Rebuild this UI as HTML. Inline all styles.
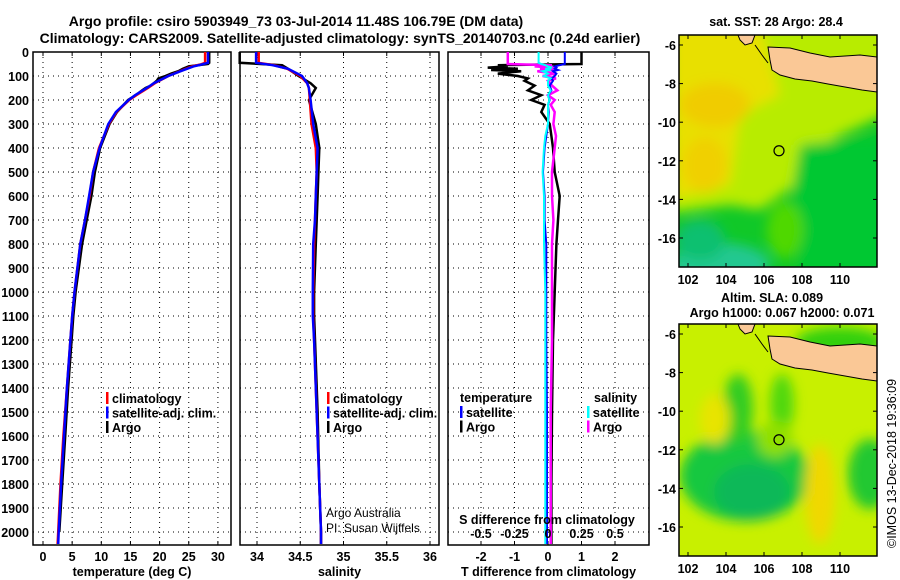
<!DOCTYPE html>
<html><head><meta charset="utf-8"><style>
body{margin:0;background:#fff}
svg{display:block}
text{font-family:"Liberation Sans",sans-serif;font-weight:bold;font-size:12.5px;fill:#000}
</style></head><body>
<svg id="c" width="900" height="580" viewBox="0 0 900 580" xmlns="http://www.w3.org/2000/svg">
<rect width="900" height="580" fill="#fff"/>
<text x="296" y="26" text-anchor="middle" style="font-size:14px">Argo profile: csiro 5903949_73 03-Jul-2014 11.48S 106.79E (DM data)</text>
<text x="340" y="43" text-anchor="middle" style="font-size:14px">Climatology: CARS2009. Satellite-adjusted climatology: synTS_20140703.nc (0.24d earlier)</text>
</svg>
<script>
// ---- data ----
const depthTicks=[0,100,200,300,400,500,600,700,800,900,1000,1100,1200,1300,1400,1500,1600,1700,1800,1900,2000];
const tempTicks=[0,5,10,15,20,25,30];
const salTicks=[34,34.5,35,35.5,36];
const salTickLabels=["34","34.5","35","35.5","36"];
const tdTicks=[-2,-1,0,1,2];
const sdTicks=[-0.5,-0.25,0,0.25,0.5];
const sdTickLabels=["-0.5","-0.25","0","0.25","0.5"];

const depT=[0,45,52,60,80,100,130,150,180,200,250,300,400,500,600,700,800,1000,1100,1200,1400,1600,1800,2000,2050];
const tempClim=[27.8,27.8,27.0,25.5,23.5,21.5,19.2,18.0,16.0,14.8,12.6,11.3,9.6,8.6,8.0,7.2,6.4,5.4,5.0,4.7,4.1,3.5,3.0,2.6,2.5];
const tempSat=[28.3,28.3,27.2,25.8,23.6,21.5,19.0,17.8,15.8,14.7,12.5,11.2,9.7,8.6,7.9,7.2,6.4,5.4,5.0,4.7,4.1,3.6,3.1,2.7,2.6];
const depA=[0,45,50,60,70,80,90,100,110,120,140,150,160,180,200,250,300,400,500,600,700,800,1000,1100,1200,1400,1600,1800,2000];
const tempArgo=[28.5,28.5,28.3,25.0,24.0,23.2,22.0,21.0,19.8,19.5,18.5,17.6,17.0,15.9,14.6,12.7,11.4,9.8,8.9,8.3,7.5,6.7,5.6,5.2,4.9,4.3,3.8,3.3,2.8];

const depS=[0,45,55,70,100,130,150,200,300,400,500,600,700,800,1000,1100,1200,1500,1800,2000,2050];
const salClim=[34.02,34.02,34.20,34.35,34.50,34.58,34.60,34.61,34.63,34.68,34.69,34.68,34.67,34.66,34.65,34.65,34.66,34.69,34.72,34.74,34.74];
const salSat=[33.99,33.99,34.18,34.36,34.52,34.58,34.60,34.62,34.65,34.70,34.69,34.68,34.67,34.65,34.645,34.645,34.66,34.69,34.72,34.74,34.74];
const salArgo=[33.8,33.8,34.29,34.36,34.48,34.62,34.68,34.60,34.68,34.72,34.71,34.70,34.69,34.68,34.66,34.66,34.67,34.70,34.72,34.74,34.74];

const depD=[0,45,50,55,60,65,70,75,80,90,100,110,120,140,160,180,200,220,250,300,350,400,500,600,700,800,1000,1200,1500,1800,2000,2050];
const tdArgo=[1.0,1.0,1.0,-1.5,-1.2,-1.8,-0.9,-1.7,-0.8,-1.5,-0.9,-0.6,-0.7,-0.4,-0.6,-0.2,-0.5,-0.1,-0.2,0.05,0.1,0.15,0.2,0.35,0.3,0.25,0.2,0.15,0.12,0.1,0.1,0.1];
const tdSat=[0.5,0.5,0.5,0.35,0.2,0.25,0.2,0.3,0.15,0.25,0.2,0.1,0.15,0.05,0.1,0.0,0.05,0.0,0.02,0.0,-0.05,-0.1,-0.15,-0.1,-0.1,-0.05,-0.05,-0.05,-0.03,-0.03,-0.03,-0.03];
const sdArgo=[-0.3,-0.3,-0.3,0.03,-0.1,0.05,-0.06,0.04,-0.08,0.05,-0.04,0.06,0.0,0.03,0.07,0.0,0.05,0.02,0.05,0.04,0.06,0.05,0.03,0.03,0.04,0.03,0.03,0.03,0.02,0.02,0.02,0.02];
const sdSat=[-0.07,-0.07,-0.05,-0.02,0.0,0.03,-0.02,0.02,-0.04,0.0,-0.03,0.02,0.0,0.0,0.02,0.0,0.01,0.0,0.0,0.0,-0.02,-0.03,-0.04,-0.03,-0.03,-0.03,-0.02,-0.02,-0.02,-0.02,-0.02,-0.02];

const NS="http://www.w3.org/2000/svg";
const svg=document.getElementById('c');
function mk(tag,attrs,parent){const e=document.createElementNS(NS,tag);for(const k in attrs)e.setAttribute(k,attrs[k]);(parent||svg).appendChild(e);return e;}

const yTop=52,yBot=545;
const yD=d=>52+d*0.24;

function panel(name,x0,x1,xs,xticks,xlabels,xtitle,showY){
  const g=mk('g',{});
  
  
  xticks.forEach((v,i)=>{
    const l=mk('line',{x1:xs(v),x2:xs(v),y1:yTop,y2:yBot,stroke:'#000','stroke-width':1,'stroke-dasharray':'1,4'},g);
    
    
    const t=mk('text',{x:xs(v),y:yBot+16,'text-anchor':'middle'},g);t.textContent=xlabels[i];
    
    
    mk('line',{x1:xs(v),x2:xs(v),y1:yBot,y2:yBot-4,stroke:'#000'},g);
    mk('line',{x1:xs(v),x2:xs(v),y1:yTop,y2:yTop+4,stroke:'#000'},g);
  });
  depthTicks.forEach(d=>{
    const l=mk('line',{x1:x0,x2:x1,y1:yD(d),y2:yD(d),stroke:'#000','stroke-width':1,'stroke-dasharray':'1,4'},g);
    
    
    if(showY){const t=mk('text',{x:29,y:yD(d)+5,'text-anchor':'end'},g);t.textContent=d;
      
      }
  });
  const r=mk('rect',{x:x0,y:yTop,width:x1-x0,height:yBot-yTop,fill:'none',stroke:'#000','stroke-width':1.5},g);
  
  
  const t=mk('text',{x:(x0+x1)/2,y:576,'text-anchor':'middle'},g);t.textContent=xtitle;
  
  
  return g;
}
function line(g,deps,vals,xs,color,w,name){
  let d='';
  deps.forEach((dp,i)=>{d+=(i?'L':'M')+xs(vals[i]).toFixed(1)+','+yD(dp).toFixed(1);});
  const p=mk('path',{d:d,fill:'none',stroke:color,'stroke-width':w},g);
  
  
}
function legend(g,x,y,items){
  items.forEach((it,i)=>{
    mk('rect',{x:x,y:y+i*14.5-6,width:2.5,height:12,fill:it[0]},g);
    const t=mk('text',{x:x+6,y:y+i*14.5+5},g);t.textContent=it[1];
    
    
  });
}
// panel 1 temperature
const xT=v=>43+v*5.83;
const g1=panel('temperature-panel',33,231,xT,tempTicks,tempTicks.map(String),'temperature (deg C)',true);
line(g1,depA,tempArgo,xT,'#000',2.5,'argo-temperature-line');
line(g1,depT,tempClim,xT,'#f00',2.5,'climatology-temperature-line');
line(g1,depT,tempSat,xT,'#00f',2.5,'satellite-temperature-line');
legend(g1,106,398,[['#f00','climatology'],['#00f','satellite-adj. clim.'],['#000','Argo']]);
// panel 2 salinity
const xS=v=>257+(v-34)*86.5;
const g2=panel('salinity-panel',240,439,xS,salTicks,salTickLabels,'salinity',false);
line(g2,depS,salArgo,xS,'#000',2.5,'argo-salinity-line');
line(g2,depS,salClim,xS,'#f00',2.5,'climatology-salinity-line');
line(g2,depS,salSat,xS,'#00f',2.5,'satellite-salinity-line');
legend(g2,327,398,[['#f00','climatology'],['#00f','satellite-adj. clim.'],['#000','Argo']]);
[['Argo Australia',517],['PI: Susan Wijffels',532]].forEach(a=>{const t=mk('text',{x:326,y:a[1],style:'font-weight:normal;font-size:12px'},g2);t.textContent=a[0];
  
  });
// panel 3 differences
const xTD=v=>548+v*33.5;
const xSD=v=>548+v*134;
const g3=panel('difference-panel',448,649,xTD,tdTicks,tdTicks.map(String),'T difference from climatology',false);
line(g3,depD,tdArgo,xTD,'#000',2.5,'argo-t-diff-line');
line(g3,depD,sdArgo,xSD,'#f0f',2.5,'argo-s-diff-line');
line(g3,depD,tdSat,xTD,'#00f',2,'satellite-t-diff-line');
line(g3,depD,sdSat,xSD,'#0ff',2,'satellite-s-diff-line');
sdTicks.forEach((v,i)=>{const t=mk('text',{x:xSD(v),y:538,'text-anchor':'middle'},g3);t.textContent=sdTickLabels[i];
  
  });
{const t=mk('text',{x:547,y:524,'text-anchor':'middle'},g3);t.textContent='S difference from climatology';
 
 }
{const t=mk('text',{x:460,y:402},g3);t.textContent='temperature';}
{const t=mk('text',{x:594,y:402},g3);t.textContent='salinity';}
legend(g3,460,412,[['#00f','satellite'],['#000','Argo']]);
legend(g3,587,412,[['#0ff','satellite'],['#f0f','Argo']]);

// ---- maps ----
function map(name,y0,bgFill,blobs,title){
  const g=mk('g',{});
  
  
  const x0=679,x1=877,y1=y0+232;
  const lx=lon=>688+(lon-102)*19, ly=lat=>y0+10+(-6-lat)*19.3;
  const cid='clip'+y0;
  const cp=mk('clipPath',{id:cid},g);mk('rect',{x:x0,y:y0,width:x1-x0,height:y1-y0},cp);
  const flt=mk('filter',{id:'bl'+y0,x:'-20%',y:'-20%',width:'140%',height:'140%'},g);mk('feGaussianBlur',{stdDeviation:6},flt);
  const inner=mk('g',{'clip-path':'url(#'+cid+')'},g);
  mk('rect',{x:x0,y:y0,width:x1-x0,height:y1-y0,fill:bgFill},inner);
  const bg=mk('g',{filter:'url(#bl'+y0+')'},inner);
  blobs.forEach(b=>{
    if(b[0]==='p'){mk('polygon',{points:b[1].map(p=>p[0]+','+(p[1]+y0)).join(' '),fill:b[2]},bg);}
    else mk('ellipse',{cx:b[1],cy:b[2]+y0,rx:b[3],ry:b[4],fill:b[5]},bg);
  });
  // land
  const java=[[768,12],[790,13],[810,18],[830,22],[845,21],[860,20],[877,22],[877,57],[862,55],[845,52],[828,49],[812,46],[795,44],[780,40],[772,35],[770,25]];
  const land=mk('polygon',{points:java.map(p=>p[0]+','+(p[1]+y0)).join(' '),fill:'#fac896',stroke:'#000','stroke-width':1},inner);
  
  
  mk('polygon',{points:[[738,0],[755,0],[752,8],[745,10],[740,5]].map(p=>p[0]+','+(p[1]+y0)).join(' '),fill:'#fac896',stroke:'#000','stroke-width':1},inner);
  mk('polyline',{points:[[755,10],[762,20],[768,28]].map(p=>p[0]+','+(p[1]+y0)).join(' '),fill:'none',stroke:'#000','stroke-width':1},inner);
  const mk1=mk('circle',{cx:lx(106.79),cy:ly(-11.48),r:5,fill:'none',stroke:'#000','stroke-width':1.2},g);
  
  
  mk('rect',{x:x0,y:y0,width:x1-x0,height:y1-y0,fill:'none',stroke:'#000','stroke-width':1.5},g);
  [-6,-8,-10,-12,-14,-16].forEach(v=>{const t=mk('text',{x:676,y:ly(v)+5,'text-anchor':'end'},g);t.textContent=v;
    
    
    mk('line',{x1:x0,x2:x0+4,y1:ly(v),y2:ly(v),stroke:'#000'},g);mk('line',{x1:x1,x2:x1-4,y1:ly(v),y2:ly(v),stroke:'#000'},g);});
  [102,104,106,108,110].forEach(v=>{const t=mk('text',{x:lx(v),y:y1+17,'text-anchor':'middle'},g);t.textContent=v;
    
    
    mk('line',{x1:lx(v),x2:lx(v),y1:y0,y2:y0+4,stroke:'#000'},g);mk('line',{x1:lx(v),x2:lx(v),y1:y1,y2:y1-4,stroke:'#000'},g);});
  title.forEach(tt=>{const t=mk('text',{x:tt[1],y:tt[2],'text-anchor':'middle'},g);t.textContent=tt[0];
    
    });
}
map('sst-map',35,'#10c828',[
  ['p',[[670,-10],[890,-10],[890,78],[840,100],[810,120],[795,150],[760,175],[730,170],[670,178]],'#b8ec00'],
  ['p',[[670,-10],[760,-10],[780,60],[740,80],[730,150],[670,165]],'#e8e000'],
  ['e',715,70,35,22,'#f0cc00'],
  ['e',705,130,22,28,'#f0d000'],
  ['p',[[800,110],[890,100],[890,240],[800,240],[790,170]],'#00c830'],
  ['e',720,230,50,22,'#20c890'],
  ['e',700,205,25,20,'#10c070'],
  ['e',785,195,18,28,'#50d800']
],[['sat. SST: 28 Argo: 28.4',776,26]]);
map('sla-map',324,'#c8f000',[
  ['e',745,152,65,45,'#18c840'],
  ['e',752,168,38,28,'#10b858'],
  ['e',738,85,15,35,'#30cc20'],
  ['e',782,80,12,30,'#50d810'],
  ['e',870,150,22,35,'#20c830'],
  ['e',820,170,15,50,'#f0d800'],
  ['e',715,95,15,25,'#e8e400'],
  ['e',840,18,45,15,'#30d010'],
  ['e',775,115,18,18,'#90e000']
],[['Altim. SLA: 0.089',772,302],['Argo h1000: 0.067 h2000: 0.071',782,317]]);
{const t=mk('text',{x:0,y:0,transform:'translate(896,548) rotate(-90)',style:'font-weight:normal;font-size:12.5px'});t.textContent='©IMOS 13-Dec-2018 19:36:09';
 
 }
</script>
</body></html>
